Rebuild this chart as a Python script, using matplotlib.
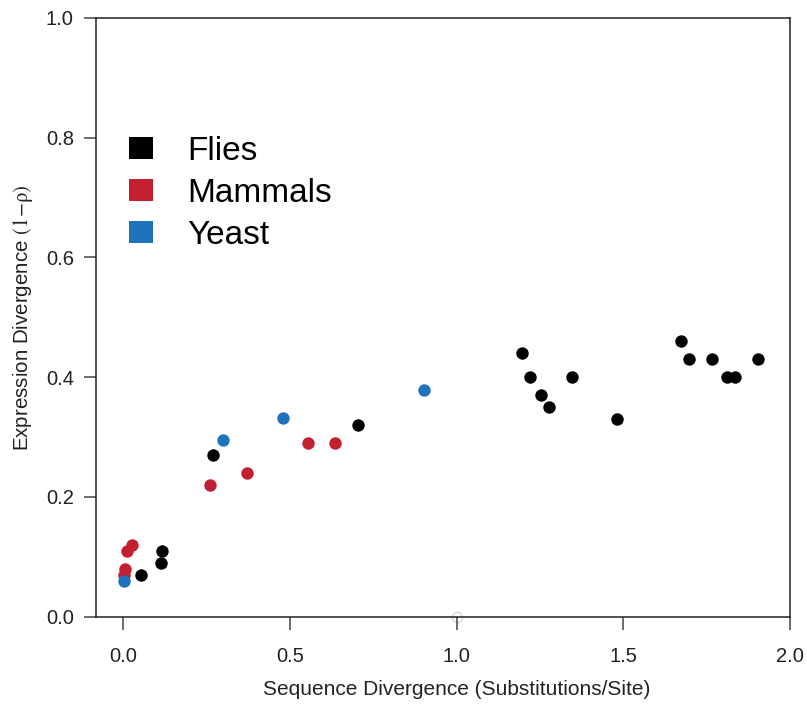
import matplotlib
matplotlib.use('Agg')
import matplotlib.pyplot as plt
from matplotlib.lines import Line2D

plt.rcParams['font.family'] = ['Liberation Sans', 'DejaVu Sans']
plt.rcParams['mathtext.fontset'] = 'stix'

# sequence divergence vs expression divergence per species pair
flies_x = [0.054, 0.117, 0.114, 0.27, 0.705, 1.196, 1.22, 1.253, 1.277, 1.346,
           1.481, 1.673, 1.697, 1.766, 1.811, 1.835, 1.904]
flies_y = [0.07, 0.11, 0.09, 0.27, 0.32, 0.44, 0.40, 0.37, 0.35, 0.40,
           0.33, 0.46, 0.43, 0.43, 0.40, 0.40, 0.43]

mammals_x = [0.026, 0.013, 0.006, 0.004, 0.26, 0.372, 0.555, 0.636]
mammals_y = [0.12, 0.11, 0.08, 0.07, 0.22, 0.24, 0.29, 0.29]

yeast_x = [0.003, 0.301, 0.48, 0.903]
yeast_y = [0.06, 0.295, 0.332, 0.379]

# empty placeholder point sitting on the x axis
ghost_x = [1.0]
ghost_y = [0.0]

groups = ['Flies', 'Mammals', 'Yeast']
colors = ['#000000', '#c21f31', '#1f73bd']

fig = plt.figure(figsize=(8.07, 7.05), dpi=100)
ax = fig.add_axes([0.119, 0.1255, 0.86, 0.849])

ax.scatter(ghost_x, ghost_y, s=55, facecolor='white', edgecolor='#d8d8d8',
           linewidth=1.0, clip_on=False, zorder=1)
ax.scatter(flies_x, flies_y, s=80, color=colors[0], linewidth=0, zorder=3)
ax.scatter(mammals_x, mammals_y, s=80, color=colors[1], linewidth=0, zorder=3)
ax.scatter(yeast_x, yeast_y, s=80, color=colors[2], linewidth=0, zorder=3)

ax.set_xlim(-0.081, 2.0)
ax.set_ylim(0, 1.0)
ax.set_xticks([0.0, 0.5, 1.0, 1.5, 2.0])
ax.set_yticks([0.0, 0.2, 0.4, 0.6, 0.8, 1.0])
ax.xaxis.set_major_formatter(plt.FormatStrFormatter('%.1f'))
ax.yaxis.set_major_formatter(plt.FormatStrFormatter('%.1f'))

for sp in ax.spines.values():
    sp.set_linewidth(1.1)
    sp.set_color('#222222')
ax.tick_params(direction='out', length=9, width=1.1, color='#444444',
               labelsize=14.5, labelcolor='#222222')
ax.tick_params(axis='x', pad=13)
ax.tick_params(axis='y', pad=7)

ax.set_xlabel('Sequence Divergence (Substitutions/Site)', fontsize=15, color='#222222')
ax.xaxis.set_label_coords(0.519, -0.106)
ax.set_ylabel(r'Expression Divergence $\mathrm{(1\!-\!\rho)}$', fontsize=14.8, color='#222222')
ax.yaxis.set_label_coords(-0.088, 0.5)

# legend with plain squares
sq = [(-1.1, -1), (1.1, -1), (1.1, 1), (-1.1, 1), (-1.1, -1)]
handles = [Line2D([], [], linestyle='none', marker=sq, markersize=17.5,
                  markerfacecolor=c, markeredgecolor=c, markeredgewidth=0)
           for c in colors]
ax.legend(handles, groups, loc='upper left', frameon=False, fontsize=24,
          handlelength=1.0, handletextpad=0.9, labelspacing=0.33,
          borderpad=0, borderaxespad=0,
          bbox_to_anchor=(124 / 807, 1 - 136 / 705),
          bbox_transform=fig.transFigure)

fig.savefig('out.png', dpi=100)
